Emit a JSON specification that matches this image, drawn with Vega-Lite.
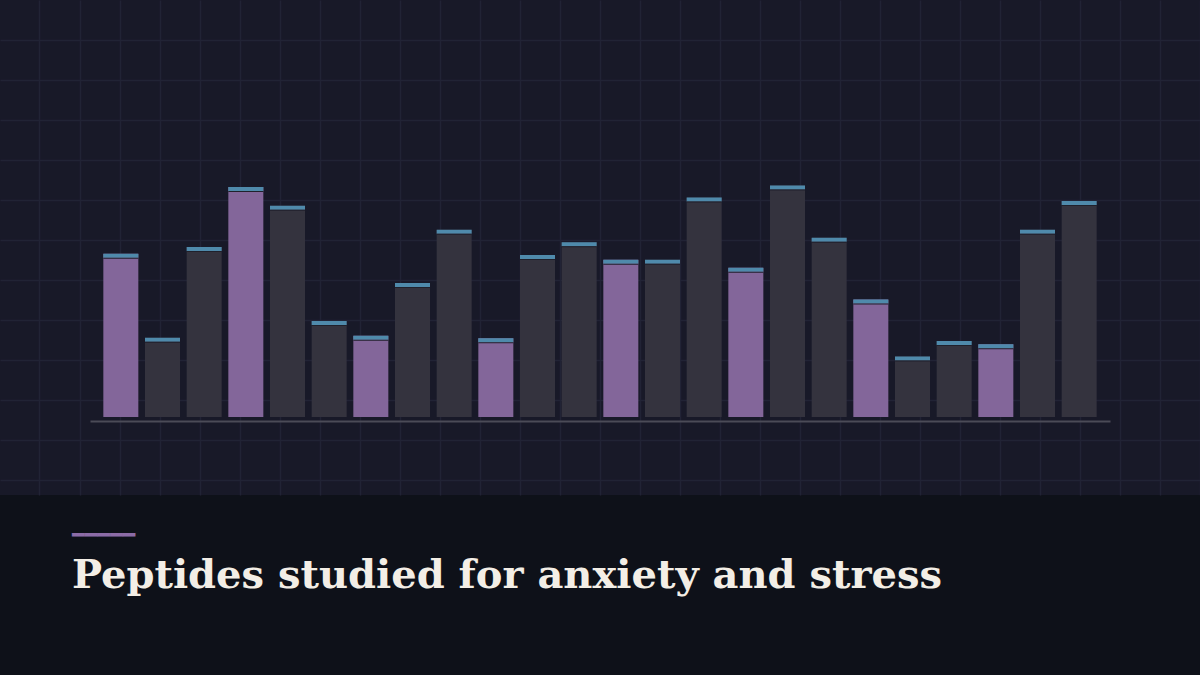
{
  "$schema": "https://vega.github.io/schema/vega-lite/v6.json",
  "description": "Peptides studied for anxiety and stress",
  "width": 1200,
  "height": 495,
  "autosize": {"type": "none"},
  "padding": {"left": 0, "top": 0, "right": 0, "bottom": 180},
  "background": "#0e1119",
  "config": {"view": {"fill": "#181928", "stroke": null}},
  "title": {
    "text": "━━━━━",
    "subtitle": "Peptides studied for anxiety and stress",
    "orient": "bottom",
    "anchor": "start",
    "frame": "group",
    "offset": 30,
    "dx": 72,
    "font": "DejaVu Sans Mono",
    "fontSize": 21,
    "color": "#8c6ca7",
    "subtitleFont": "DejaVu Serif",
    "subtitleFontSize": 40,
    "subtitleFontWeight": "bold",
    "subtitleColor": "#f3eee6",
    "subtitlePadding": 10
  },
  "layer": [
    {
      "data": {"values": []},
      "mark": {"type": "rule"},
      "encoding": {
        "x": {
          "field": "gx",
          "type": "quantitative",
          "scale": {"domain": [0, 1200], "nice": false, "zero": false},
          "axis": {
            "orient": "top",
            "values": [39.5, 79.5, 119.5, 159.5, 199.5, 239.5, 279.5, 319.5, 359.5, 399.5, 439.5, 479.5, 519.5, 559.5, 599.5, 639.5, 679.5, 719.5, 759.5, 799.5, 839.5, 879.5, 919.5, 959.5, 999.5, 1039.5, 1079.5, 1119.5, 1159.5, 1199.5],
            "grid": true, "gridColor": "#212335", "gridWidth": 1.5,
            "labels": false, "ticks": false, "domain": false, "title": null
          }
        },
        "y": {
          "field": "gy",
          "type": "quantitative",
          "scale": {"domain": [0, 495], "nice": false, "zero": false, "reverse": true},
          "axis": {
            "orient": "left",
            "values": [39.5, 79.5, 119.5, 159.5, 199.5, 239.5, 279.5, 319.5, 359.5, 399.5, 439.5, 479.5],
            "grid": true, "gridColor": "#212335", "gridWidth": 1.5,
            "labels": false, "ticks": false, "domain": false, "title": null
          }
        }
      }
    },
    {
      "data": {
        "values": [
          {"id": 1, "group": "highlight", "value": 40.8},
          {"id": 2, "group": "other", "value": 19.8},
          {"id": 3, "group": "other", "value": 42.5},
          {"id": 4, "group": "highlight", "value": 57.5},
          {"id": 5, "group": "other", "value": 52.8},
          {"id": 6, "group": "other", "value": 24},
          {"id": 7, "group": "highlight", "value": 20.3},
          {"id": 8, "group": "other", "value": 33.5},
          {"id": 9, "group": "other", "value": 46.8},
          {"id": 10, "group": "highlight", "value": 19.7},
          {"id": 11, "group": "other", "value": 40.5},
          {"id": 12, "group": "other", "value": 43.7},
          {"id": 13, "group": "highlight", "value": 39.3},
          {"id": 14, "group": "other", "value": 39.3},
          {"id": 15, "group": "other", "value": 54.9},
          {"id": 16, "group": "highlight", "value": 37.3},
          {"id": 17, "group": "other", "value": 57.9},
          {"id": 18, "group": "other", "value": 44.8},
          {"id": 19, "group": "highlight", "value": 29.4},
          {"id": 20, "group": "other", "value": 15.1},
          {"id": 21, "group": "other", "value": 19},
          {"id": 22, "group": "highlight", "value": 18.2},
          {"id": 23, "group": "other", "value": 46.8},
          {"id": 24, "group": "other", "value": 54}
        ]
      },
      "encoding": {
        "x": {
          "field": "id",
          "type": "ordinal",
          "scale": {"range": [90, 1110], "paddingInner": 0.16, "paddingOuter": 0.32},
          "axis": {
            "orient": "bottom",
            "offset": -74,
            "labels": false, "ticks": false, "grid": false, "title": null,
            "domain": true, "domainColor": "#4b4b57", "domainWidth": 2
          }
        },
        "y": {
          "field": "value",
          "type": "quantitative",
          "scale": {"domain": [0, 100], "range": [417, 17], "nice": false},
          "axis": null
        }
      },
      "layer": [
        {
          "mark": {"type": "bar", "cornerRadius": 0},
          "encoding": {
            "color": {
              "field": "group",
              "type": "nominal",
              "scale": {"domain": ["highlight", "other"], "range": ["#83669a", "#34333e"]},
              "legend": null
            }
          }
        },
        {
          "mark": {"type": "tick", "thickness": 4, "size": 35, "yOffset": 2, "color": "#4f8aab", "opacity": 1},
          "encoding": {}
        },
        {
          "mark": {"type": "tick", "thickness": 1, "size": 35, "yOffset": 4.5, "color": "#20212c", "opacity": 1},
          "encoding": {}
        }
      ]
    }
  ],
  "resolve": {
    "scale": {"x": "independent", "y": "independent"},
    "axis": {"x": "independent", "y": "independent"}
  }
}
